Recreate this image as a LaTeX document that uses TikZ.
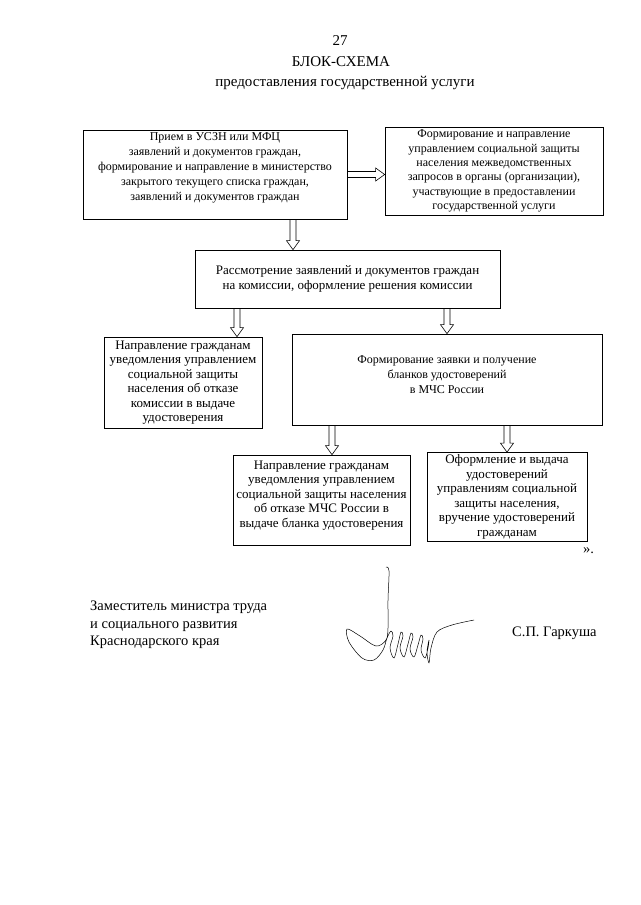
\documentclass[tikz,border=0pt]{standalone}
\usepackage{fontspec}
\setmainfont{Liberation Serif}
\usetikzlibrary{calc}

\begin{document}
\begin{tikzpicture}[x=1pt,y=-1pt,
  blk/.style={draw,line width=.7pt,align=center,inner sep=2pt,font=\fontsize{12}{15}\selectfont},
  big/.style={font=\fontsize{13}{14.5}\selectfont},
  txt/.style={inner sep=0pt,font=\fontsize{14.5}{17.5}\selectfont},
  hollow/.style={line width=.6pt,line join=miter,
    to path={let \p1=(\tikztostart), \p2=(\tikztotarget), \p3=($(\p2)!9pt!(\p1)$) in
      ($(\p1)!3pt!90:(\p2)$) -- ($(\p3)!3pt!-90:(\p1)$) -- ($(\p3)!6.5pt!-90:(\p1)$) -- (\p2)
      -- ($(\p3)!6.5pt!90:(\p1)$) -- ($(\p3)!3pt!90:(\p1)$) -- ($(\p1)!3pt!-90:(\p2)$)}}]
\path[use as bounding box,fill=white] (0,0) rectangle (640,905);

% heading
\node[txt,font=\fontsize{15}{18}\selectfont] (page) at (340,41) {27};
\node[txt,font=\fontsize{15}{18}\selectfont] (title) at (341,62) {БЛОК-СХЕМА};
\node[txt,font=\fontsize{15}{18}\selectfont] (subtitle) at (345,83) {предоставления государственной услуги};

% blocks
\node[blk,minimum width=264,minimum height=89] (b1) at (215,174.5) {Прием в УСЗН или МФЦ\\заявлений и документов граждан,\\формирование и направление в министерство\\закрытого текущего списка граждан,\\заявлений и документов граждан\\[0pt]\mbox{}};
\node[blk,minimum width=218,minimum height=88,inner ysep=1pt,font=\fontsize{12}{14.3}\selectfont] (b2) at (494,171) {Формирование и направление\\управлением социальной защиты\\населения межведомственных\\запросов в органы (организации),\\участвующие в предоставлении\\государственной услуги};
\node[blk,big,minimum width=305,minimum height=58] (b3) at (347.5,279) {Рассмотрение заявлений и документов граждан\\на комиссии, оформление решения комиссии};
\node[blk,big,minimum width=158,minimum height=91,inner ysep=1pt] (b4) at (183,382.5) {Направление гражданам\\уведомления управлением\\социальной защиты\\населения  об отказе\\комиссии в выдаче\\удостоверения};
\node[blk,minimum width=310,minimum height=91] (b5) at (447,379.5) {Формирование заявки и получение\\бланков удостоверений\\в МЧС России\\[-6pt]\mbox{}};
\node[blk,big,minimum width=177,minimum height=90] (b6) at (321.5,500) {Направление гражданам\\уведомления управлением\\социальной защиты населения\\об отказе МЧС России в\\выдаче бланка удостоверения\\[-2pt]\mbox{}};
\node[blk,big,minimum width=160,minimum height=89,inner ysep=1pt] (b7) at (507,497) {Оформление и выдача\\удостоверений\\управлениям социальной\\защиты населения,\\вручение удостоверений\\гражданам};

% hollow arrows
\draw[hollow] (b1.east) to (b2.west |- b1.east);
\draw[hollow] ([xshift=78pt]b1.south) to ([xshift=-54.5pt]b3.north);
\draw[hollow] ([xshift=-110.5pt]b3.south) to ([xshift=54pt]b4.north);
\draw[hollow] ([xshift=99.5pt]b3.south) to (b5.north);
\draw[hollow] ([xshift=-115pt]b5.south) to ([xshift=10.5pt]b6.north);
\draw[hollow] ([xshift=60pt]b5.south) to (b7.north);

\node[txt,anchor=west] (quote) at (583,551) {».};

% signature block
\node[txt,align=left,anchor=west] (post) at (90,625) {Заместитель министра труда\\и социального развития\\Краснодарского края};
\node[txt,anchor=west] (name) at (512,633) {С.П. Гаркуша};
\draw[line width=.5pt,line join=round] plot[smooth,tension=.55] coordinates {(386,567) (389,571) (388,600) (388,628) (386,640) (376,646) (360,636) (347,629) (349,642) (362,658) (374,660) (383,650) (387,638) (391,631) (393,636) (390,648) (394,658) (398,644) (401,632) (403,636) (400,648) (404,657) (408,644) (411,633) (413,637) (410,649) (414,657) (418,645) (421,635) (423,639) (421,650) (425,658) (428,648) (429,640) (427,652) (429,663) (431,648) (437,632) (452,625) (474,620)};
\end{tikzpicture}
\end{document}
